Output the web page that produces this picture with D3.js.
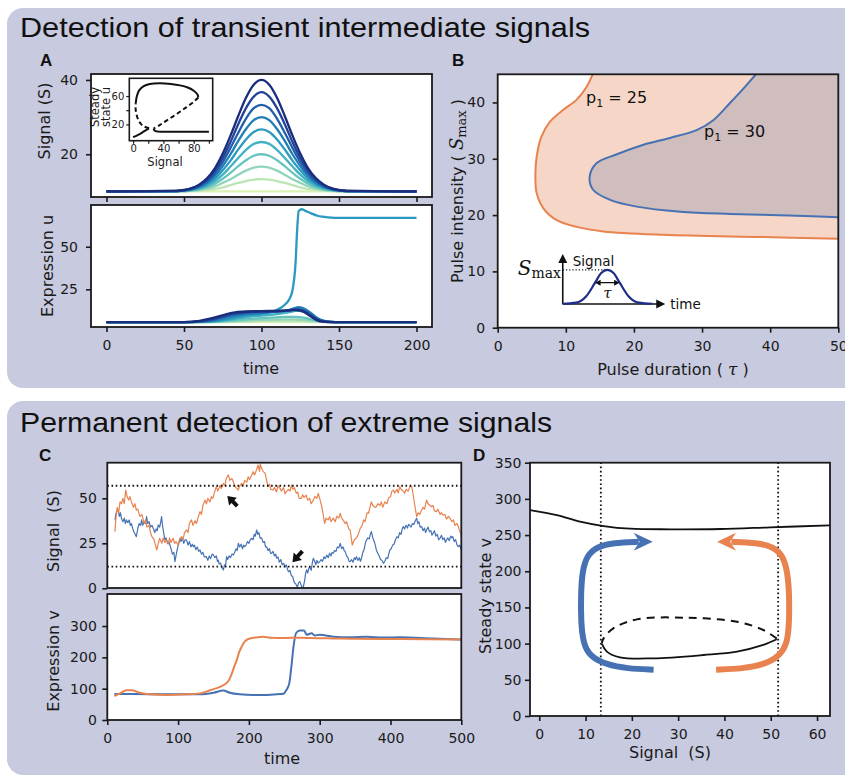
<!DOCTYPE html>
<html><head><meta charset="utf-8">
<script src="https://cdn.jsdelivr.net/npm/d3@7"></script>
<style>body{margin:0;background:#fff}svg{display:block}</style>
</head><body>
<svg id="chart" width="845" height="777"></svg>
<script>
// ---------------- DATA ----------------
// Panel A (top): Gaussian-like signal pulses, one array per pulse amplitude
const pulseTimes = [0,45,50,55,60,65,70,75,80,85,90,95,100,105,110,115,120,125,130,135,140,145,150,155,200];
const pulse0 = [10,10,10,10,10,10,10,10,10,10,10,10,10,10,10,10,10,10,10,10,10,10,10,10,10];
const pulse1 = [10,10.0,10.0,10.1,10.2,10.4,10.7,11.1,11.7,12.3,12.8,13.2,13.3,13.2,12.8,12.3,11.7,11.1,10.7,10.4,10.2,10.1,10.0,10.0,10];
const pulse2 = [10,10.0,10.1,10.2,10.4,10.8,11.4,12.3,13.3,14.5,15.6,16.4,16.7,16.4,15.6,14.5,13.3,12.3,11.4,10.8,10.4,10.2,10.1,10.0,10];
const pulse3 = [10,10.1,10.1,10.3,10.6,11.2,12.1,13.4,15.0,16.8,18.4,19.6,20.0,19.6,18.4,16.8,15.0,13.4,12.1,11.2,10.6,10.3,10.1,10.1,10];
const pulse4 = [10,10.1,10.2,10.4,10.8,11.6,12.8,14.5,16.7,19.0,21.2,22.8,23.3,22.8,21.2,19.0,16.7,14.5,12.8,11.6,10.8,10.4,10.2,10.1,10];
const pulse5 = [10,10.1,10.2,10.5,11.1,12.0,13.5,15.7,18.3,21.3,24.0,26.0,26.7,26.0,24.0,21.3,18.3,15.7,13.5,12.0,11.1,10.5,10.2,10.1,10];
const pulse6 = [10,10.1,10.3,10.6,11.3,12.4,14.2,16.8,20.0,23.6,26.8,29.2,30.0,29.2,26.8,23.6,20.0,16.8,14.2,12.4,11.3,10.6,10.3,10.1,10];
const pulse7 = [10,10.1,10.3,10.7,11.5,12.8,14.9,17.9,21.7,25.8,29.6,32.4,33.3,32.4,29.6,25.8,21.7,17.9,14.9,12.8,11.5,10.7,10.3,10.1,10];
const pulse8 = [10,10.1,10.3,10.8,11.7,13.2,15.6,19.0,23.3,28.1,32.4,35.5,36.7,35.5,32.4,28.1,23.3,19.0,15.6,13.2,11.7,10.8,10.3,10.1,10];
const pulse9 = [10,10.2,10.4,10.9,11.9,13.6,16.3,20.2,25.0,30.3,35.2,38.7,40.0,38.7,35.2,30.3,25.0,20.2,16.3,13.6,11.9,10.9,10.4,10.2,10];
const pulses = [pulse0,pulse1,pulse2,pulse3,pulse4,pulse5,pulse6,pulse7,pulse8,pulse9];

// Panel A (bottom): expression u responses
const exprTimes = [0,50,60,70,80,90,100,110,114,118,120,122,123,124,126,128,132,136,140,145,150,200];
const expr0 = [5.8,5.8,5.8,5.8,5.8,5.8,5.8,5.8,5.8,5.8,5.8,5.8,5.8,5.8,5.8,5.8,5.8,5.8,5.8,5.8,5.8,5.8];
const expr1 = [5.8,5.8,5.8,5.8,5.9,6.1,6.3,6.4,6.4,6.4,6.4,6.4,6.4,6.3,6.3,6.2,6.1,6.0,5.9,5.8,5.8,5.8];
const expr2 = [5.8,5.8,5.8,5.9,6.2,6.7,7.1,7.3,7.4,7.4,7.4,7.4,7.3,7.3,7.2,7.0,6.6,6.2,6.0,5.8,5.8,5.8];
const expr3 = [5.8,5.8,5.8,6.0,6.6,7.4,8.1,8.6,8.8,8.9,8.9,8.9,8.8,8.7,8.5,8.2,7.4,6.6,6.1,5.9,5.8,5.8];
const expr4 = [5.8,5.8,5.9,6.2,7.2,8.6,9.6,10.5,11.0,11.6,12.0,12.3,12.4,12.4,12.2,11.6,9.6,7.6,6.4,5.9,5.8,5.8];
const expr5 = [5.8,5.8,5.9,6.3,7.8,9.6,10.6,13.0,15.2,19.3,24.5,41,60,71,72,71.2,69.6,68.2,67.6,67.1,67.0,67.0];
const expr6 = [5.8,5.8,6.0,6.8,8.8,10.4,11.2,11.8,12.3,13.0,13.6,14.2,14.4,14.5,14.3,13.5,11.0,8.2,6.6,5.9,5.8,5.8];
const expr7 = [5.8,5.8,6.1,7.4,9.8,11.2,11.7,12.0,12.3,12.8,13.2,13.5,13.5,13.4,13.0,12.3,10.0,7.6,6.3,5.9,5.8,5.8];
const expr8 = [5.8,5.8,6.3,8.0,10.5,11.6,12.0,12.2,12.4,12.7,12.9,13.0,13.0,12.9,12.6,11.8,9.5,7.2,6.1,5.8,5.8,5.8];
const expr9 = [5.8,5.8,6.5,8.5,11.0,12.0,12.2,12.4,12.5,12.7,12.8,12.8,12.7,12.6,12.2,11.4,9.0,6.8,6.0,5.8,5.8,5.8];
const exprs = [expr0,expr1,expr2,expr3,expr4,expr5,expr6,expr7,expr8,expr9];

// Panel A inset: steady state u vs signal (branches)
const insetSolidLow = [[0,2],[6,5],[12,8.5],[17,12],[21,14.5]];
const insetDashLeft = [[21,14.5],[13,18],[8,24],[4.5,34],[3.2,44],[3.5,50]];
const insetSolidTop = [[3.5,50],[5,60],[8,68],[14,74],[22,77],[35,78],[50,77],[62,75],[72,72],[80,67.5],[85,62],[86,58]];
const insetDashRight = [[86,58],[80,52],[70,44],[58,35],[45,26],[35,19],[27,14]];
const insetSolidBottom = [[27,14],[28.5,11],[33,9.8],[50,9.5],[75,9.5],[100,9.5]];

// Panel B: detection-region boundaries (tau, S_max)
const contourP25 = [[13.94,45],[13.06,42.8],[11.6,40.5],[9.63,38.7],[7.68,36.6],[6.45,34.0],[5.72,30.4],[5.53,26.8],[5.72,23.9],[6.7,21.2],[8.66,19.1],[11.6,17.9],[15.5,17.1],[24.3,16.5],[39.0,16.1],[50,15.8]];
const contourP30 = [[37.9,45],[36.1,42.5],[34.1,39.9],[31.7,36.9],[29.2,35.1],[25.3,33.7],[21.4,32.5],[17.5,30.8],[14.5,29.2],[13.5,26.8],[14.0,24.5],[16.5,22.7],[20.4,21.5],[26.8,20.6],[34.1,20.2],[43.9,19.9],[50,19.6]];
const schematicPulse = [[9.5,4.25],[11.5,4.45],[13,5.6],[14.3,8.0],[15.2,9.7],[16.1,10.26],[17,9.7],[17.9,8.0],[19.2,5.6],[20.7,4.45],[22.7,4.25]];

// Panel C (top): noisy signals (time, S)
const signalOrange = [[10.8,31.5],[12,38],[14,45],[16,42],[18,48],[20,47],[22,50],[24,47],[26,54.6],[28,51],[30,49],[32,51],[34,48],[37,45],[39,47],[41,43.5],[43,44],[46,40],[49,41],[52,36],[54,38],[56,34],[59,35],[61,31],[63,28.7],[66,27],[68,24],[70,21.3],[72,25],[74,27.8],[77,25],[79,28],[81,25.5],[84,26.8],[86,24.5],[88,28],[90,25.5],[93,27.8],[95,25],[97,26],[100,24],[102,27],[105,28.7],[107,27],[109,31],[112,32.4],[114,31],[116,36],[119,38],[121,35],[124,37.5],[126,36],[128,39],[131,42.6],[133,41],[135,46],[138,49],[140,47],[142,50],[145,48],[147,51],[149,50],[152,54],[154,56.5],[156,54],[159,57],[161,55.5],[164,58.3],[166,57],[168,61],[171,63],[173,60],[176,61],[178,59.2],[180,57],[182,56],[185,54.6],[187,57],[190,58.3],[192,57],[194,60],[197,59],[199,62],[201,60.5],[204,63],[206,64.8],[208,63],[211,66],[213,68.5],[215,65],[216,69],[218,66.7],[220,65],[223,63.9],[225,60],[227,56.5],[229,58],[231,55],[234,54.6],[236,56],[239,53.5],[241,57],[244,55.5],[246,54],[249,56],[251,52.5],[253,53.7],[256,55],[258,54],[260,57.4],[262,55],[264,56],[267,52.8],[269,53.5],[271,50],[274,50],[276,52],[278,50.5],[281,51.8],[283,49],[286,50],[288,47],[291,49],[293,51],[296,50],[298,52.8],[300,50],[303,45.3],[305,41],[307,36],[309,39],[312,38],[314,39.8],[316,37],[319,39],[322,37],[324,40],[327,39],[329,41.7],[331,39],[333,38],[336,36],[338,37],[341,33],[343,32.4],[345,27],[346,24],[347,25],[349,27],[352,28],[355,30.5],[357,33],[360,35],[362,38],[364,37],[367,42],[369,41.7],[371,45],[373,48],[375,46],[378,45],[380,45.3],[382,47],[385,46],[387,48],[389,45],[392,48],[395,47],[397,50],[400,51],[402,54],[404,54.6],[406,53],[409,55],[411,53],[413,56.5],[415,55],[418,54],[420,52.8],[422,55],[425,54],[428,57],[430,56.5],[432,52],[434,47],[436,42],[437,39.8],[439,42],[441,41],[444,43.5],[446,45],[448,44],[451,49],[453,47],[456,46],[458,45.3],[460,46],[462,43],[465,42.6],[467,44],[470,41],[472,42],[474,40.7],[477,41],[479,38.5],[482,40],[484,38.9],[487,37],[489,38],[491,35],[494,36],[496,34],[498,31.5],[500,29.6]];
const signalBlue = [[10.8,38],[12,41],[14,43.5],[15.5,43],[17,40],[18.5,42],[20,38.9],[22,37],[24,39],[25.5,36],[27,38],[29,36.5],[31,38],[32.5,35],[34,36],[36,33],[38,31],[39.5,30],[41,28.7],[43,33],[45,36],[47,35],[48.5,38],[50,35],[52,37],[54,36],[55.5,39.8],[57,36],[59,37],[61,34],[63,35],[65,33.3],[67,31],[69,33],[70.5,32],[72,35.2],[74,34],[75.5,37],[76.7,39.8],[78,35],[80,30],[81.5,26.8],[83,28],[85,25],[87,26],[88.5,24],[90,22],[92,19],[94,20],[95.6,14.8],[97,18],[99,22],[101,25],[102.6,27.8],[104,26],[106,28],[108,25],[110,27],[112,26.8],[114,24],[116,26],[118,23],[120,24.5],[121.5,23.1],[123,24],[125,21.5],[127,23],[129,20.5],[131,21.3],[133,19],[135,20],[137,17.5],[140,17.6],[142,15.5],[144,18],[146,16.5],[148,19],[150,18.5],[152,17],[154,18],[155.5,15],[156.8,15.7],[158,13.5],[160,14],[162,11.5],[164,10.2],[165.5,13],[167,12.5],[168.5,17.6],[170,16],[172,18],[174,17],[176,19],[178,18.5],[180,20],[182,22],[183.5,21],[185,25],[187,23],[189,24.5],[191,22],[192.5,24],[194,23.1],[196,24],[198,26],[200,25],[202,27],[204,27.8],[206,27],[207.5,30],[209,29],[211,32.4],[212.5,30],[214,31],[216,27.8],[218,28],[220,25.5],[222,26],[223.5,23],[225,23.1],[227,21],[229,22],[230.5,19.5],[232,19.4],[234,20.5],[236,18],[238,19],[239,16.7],[241,17.5],[243,14.5],[245,16],[247,13],[249,13.9],[251,12],[253,13],[254.5,10.5],[256,9.2],[258,10],[260,7],[262,6.5],[263,4.6],[264.5,3],[266,2.5],[267,1.8],[268.5,0.5],[270,3],[272,3.7],[274,1.5],[275.5,0.3],[277,0.9],[279,5],[280,8],[281.5,10.2],[283,8.5],[284.5,11],[286,12],[288,10],[289.5,14],[291,16.7],[293,15],[294.5,13],[296,15.5],[298,14],[300,14.8],[302,16],[304,15],[306,17.5],[308,16.5],[310,18.5],[312,17],[314,19.5],[316,18],[317.5,20],[319,19.4],[321,21],[323,20.5],[325,23],[327,22.5],[329,25],[331,22],[333,23],[334.5,21],[336,20.4],[338,18],[340,17],[341.5,15],[343,14.8],[345,16],[347,14.5],[349,17],[350.5,16],[352,17.6],[354,15.5],[356,17],[357.5,15],[359,16.7],[361,20],[363,22],[364.5,25],[366,26.8],[368,28],[370,27.5],[371.5,30],[373,31.5],[375,28],[377,26],[378.5,24],[380,21.3],[382,19.5],[384,18],[386,16],[388,15.5],[390,13.9],[392,15],[394,17],[396,16.5],[397.5,19],[399,21.3],[401,22],[403,24],[405,24.5],[407,27],[409,28.7],[411,28],[413,31],[415,30],[416.5,33],[418,34.3],[420,33],[422,35],[424,33.5],[425.5,35.5],[427,35.2],[429,34],[431,36],[433,35.5],[435,37.5],[437,38.9],[438.5,36],[440,37],[442,34],[444,34.3],[446,32],[448,33.5],[449.5,31],[451,32.4],[453,34],[455,31.5],[457,32],[458.5,29.5],[460,30.5],[462,32],[464,29],[466,30],[468,27],[470,27.8],[472,29.5],[474,27],[476,28],[477.5,25.5],[479,26.8],[481,28],[483,26.5],[485,29],[486.5,28],[488,28.7],[490,26],[492,27],[494,24],[496,23.1],[498,24],[500,21.3]];
const thresholdsC = [57, 12];
const arrowsC = [{tail:[183.6,45.7], tip:[169.5,51.3]}, {tail:[275.6,20.7], tip:[261.5,14.5]}];

// Panel C (bottom): expression v
const exprOrange = [[10,76],[18,85],[27,95],[34,95],[46,87],[60,82],[84,80],[112,82],[131,85],[145,95],[159,106],[168,117],[172,128],[176,149],[180,175],[183,192],[186,215],[190,235],[194,250],[197,256],[201,260],[206,262.6],[213,264],[220,265.8],[230,262.6],[250,262],[272,262.6],[300,261],[319,260.5],[350,259],[400,258.5],[450,258],[500,257]];
const exprBlue = [[10,83],[37,83],[84,82],[131,82],[150,87],[164,94],[173,87],[187,82],[206,80],[225,80],[244,83],[249,84],[253,96],[257,117],[260,170],[263,234],[266.5,277],[272,285.5],[278,285.5],[281.5,272],[288.6,277],[293,270],[300,272],[319,266],[343,264],[366,266],[390,263],[413,264],[460,260],[500,257]];

// Panel D: steady state v vs signal
const dUpper = [[-2,284.6],[3.8,277.7],[8.8,268.5],[13.9,262.5],[19.6,258.8],[28.3,258],[39.1,258.4],[49.9,260.7],[62.8,263.5]];
const dLowerSolid = [[13.5,100],[14.6,89],[17.4,81.1],[24.6,79.7],[35.5,84.3],[42.7,89],[48.4,98.2],[51.3,106]];
const dLowerDashed = [[51.3,107],[48.4,118.8],[42.7,130.3],[31.9,135.8],[21.1,133.5],[16,121.1],[13.9,107.3],[13.5,101]];
const thresholdsD = [13.3, 51.6];
const arrowBlueD = [[24.7,64],[19,65.5],[14.5,71],[11,82],[9.5,100],[9,130],[9,170],[9.3,200],[10.3,222],[12.5,234],[16,239.5],[21.5,240.8]];
const arrowBlueTip = [24.5,240.8];
const arrowOrangeD = [[38.2,64],[44,65.5],[48.5,71],[51.8,82],[53.6,100],[54,130],[54,170],[53.6,200],[52.6,222],[50.5,234],[47,239.5],[41.5,240.8]];
const arrowOrangeTip = [38.4,240.8];

// tick values
const ticksAx = [0,50,100,150,200], ticksAy1 = [20,40], ticksAy2 = [25,50];
const ticksInsetX = [0,20,40,60,80,100], insetXLabels = [0,40,80], ticksInsetY = [20,40,60], insetYLabels = [20,60];
const ticksBx = [0,10,20,30,40,50], ticksBy = [0,10,20,30,40];
const ticksCx = [0,100,200,300,400,500], ticksCy1 = [0,25,50], ticksCy2 = [0,100,200,300];
const ticksDx = [0,10,20,30,40,50,60], ticksDy = [0,50,100,150,200,250,300,350];

// ---------------- DRAWING ----------------
const svg = d3.select('#chart');
const defs = svg.append('defs');
const SANS = "'DejaVu Sans', 'Noto Sans', sans-serif";
const SERIF = "'DejaVu Serif', serif";
const HEAD = "'Liberation Sans', Arial, sans-serif";
const BG = '#c8cadf', BLUE = '#4672b4', ORANGE = '#e8824e', INK = '#1a1a1a';

// panel backgrounds
svg.append('rect').attr('x',7).attr('y',8).attr('width',870).attr('height',380).attr('rx',16).attr('fill',BG);
svg.append('rect').attr('x',7).attr('y',401).attr('width',870).attr('height',374).attr('rx',16).attr('fill',BG);

svg.append('text').attr('x',20).attr('y',37).attr('font-family',HEAD).attr('font-size',28).attr('fill','#111')
  .attr('textLength',570).attr('lengthAdjust','spacingAndGlyphs').text('Detection of transient intermediate signals');
svg.append('text').attr('x',20).attr('y',432).attr('font-family',HEAD).attr('font-size',28).attr('fill','#111')
  .attr('textLength',532).attr('lengthAdjust','spacingAndGlyphs').text('Permanent detection of extreme signals');

function letter(x,y,t){ svg.append('text').attr('x',x).attr('y',y).attr('font-family',HEAD).attr('font-weight','bold').attr('font-size',17).attr('fill','#111').text(t); }
letter(40,66,'A'); letter(452,66,'B'); letter(39,461,'C'); letter(473,461,'D');

let clipN = 0;
function plotArea(x0,y0,x1,y1){
  svg.append('rect').attr('x',x0).attr('y',y0).attr('width',x1-x0).attr('height',y1-y0).attr('fill','#fff');
  const id = 'clip'+(clipN++);
  defs.append('clipPath').attr('id',id).append('rect').attr('x',x0).attr('y',y0).attr('width',x1-x0).attr('height',y1-y0);
  return svg.append('g').attr('clip-path',`url(#${id})`);
}
function frame(x0,y0,x1,y1,w){
  svg.append('rect').attr('x',x0).attr('y',y0).attr('width',x1-x0).attr('height',y1-y0)
    .attr('fill','none').attr('stroke',INK).attr('stroke-width',w||1.8);
}
function styleAxis(g,fs,lw){
  g.select('.domain').remove();
  g.selectAll('.tick line').attr('stroke',INK).attr('stroke-width',lw||1.6);
  g.selectAll('.tick text').attr('fill',INK).attr('font-family',SANS).attr('font-size',fs||14);
}
function axisB(scale,y,ticks,o){
  o=o||{};
  const ax = d3.axisBottom(scale).tickValues(ticks).tickSize(o.size||5).tickPadding(o.pad==null?8.5:o.pad);
  ax.tickFormat(o.labels===false ? ()=>'' : (o.fmt || (d=>d)));
  const g = svg.append('g').attr('transform',`translate(0,${y})`).call(ax);
  styleAxis(g,o.fs,o.lw); return g;
}
function axisL(scale,x,ticks,o){
  o=o||{};
  const ax = d3.axisLeft(scale).tickValues(ticks).tickSize(o.size||5).tickPadding(o.pad==null?6:o.pad);
  ax.tickFormat(o.fmt || (d=>d));
  const g = svg.append('g').attr('transform',`translate(${x},0)`).call(ax);
  styleAxis(g,o.fs,o.lw); return g;
}
function label(x,y,txt,o){
  o=o||{};
  const t = svg.append('text').attr('x',x).attr('y',y).attr('text-anchor','middle').attr('dy','0.35em')
    .attr('font-family',SANS).attr('font-size',o.size||16).attr('fill',INK).style('white-space','pre').text(txt);
  if(o.rot) t.attr('transform',`rotate(-90,${x},${y})`);
  return t;
}
function arrowPoly(g,x1,y1,x2,y2,headL,headW,shaftW,color){
  const dx=x2-x1, dy=y2-y1, len=Math.hypot(dx,dy), ux=dx/len, uy=dy/len, px=-uy, py=ux;
  const bx=x2-ux*headL, by=y2-uy*headL;
  const pts=[[x1+px*shaftW,y1+py*shaftW],[bx+px*shaftW,by+py*shaftW],[bx+px*headW,by+py*headW],[x2,y2],
             [bx-px*headW,by-py*headW],[bx-px*shaftW,by-py*shaftW],[x1-px*shaftW,y1-py*shaftW]];
  g.append('polygon').attr('points',pts.map(p=>p.join(',')).join(' ')).attr('fill',color);
}
function headOnly(g,tx,ty,ux,uy,L,W,notch,color){
  const px=-uy, py=ux, bx=tx-ux*L, by=ty-uy*L, nx=tx-ux*(L-notch), ny=ty-uy*(L-notch);
  g.append('polygon').attr('points',[[tx,ty],[bx+px*W,by+py*W],[nx,ny],[bx-px*W,by-py*W]].map(p=>p.join(',')).join(' ')).attr('fill',color);
}

// ===== Panel A top =====
const xA = d3.scaleLinear([-10,210],[91,432]);
const yA1 = d3.scaleLinear([8.5,41.6],[197,74]);
const yA2 = d3.scaleLinear([2.9,74.5],[327,205]);
const colA = i => d3.interpolateYlGnBu(0.18 + i*0.082);
{
  const g = plotArea(91,74,432,197);
  const line = d3.line().x((d,i)=>xA(pulseTimes[i])).y(d=>yA1(d)).curve(d3.curveMonotoneX);
  pulses.forEach((p,i)=> g.append('path').attr('d',line(p)).attr('fill','none').attr('stroke',colA(i)).attr('stroke-width',2.3));
  frame(91,74,432,197);
  axisB(xA,197,ticksAx,{labels:false});
  axisL(yA1,91,ticksAy1,{pad:8});
  label(44,121,'Signal (S)',{rot:true});
}
// inset
{
  const xI = d3.scaleLinear([-5,105],[129.3,212.7]);
  const yI = d3.scaleLinear([-3,85],[140.7,78.3]);
  const g = plotArea(129.3,78.3,212.7,140.7);
  const ln = d3.line().x(d=>xI(d[0])).y(d=>yI(d[1])).curve(d3.curveCatmullRom);
  [insetSolidLow,insetSolidTop,insetSolidBottom].forEach(b=>g.append('path').attr('d',ln(b)).attr('fill','none').attr('stroke','#111').attr('stroke-width',2));
  [insetDashLeft,insetDashRight].forEach(b=>g.append('path').attr('d',ln(b)).attr('fill','none').attr('stroke','#111').attr('stroke-width',2).attr('stroke-dasharray','4.5,3'));
  frame(129.3,78.3,212.7,140.7,1.6);
  axisB(xI,140.7,ticksInsetX,{size:3,pad:1.5,fs:10,lw:1.2,fmt:d=>insetXLabels.includes(d)?d:''});
  axisL(yI,129.3,ticksInsetY,{size:3,pad:2,fs:10,lw:1.2,fmt:d=>insetYLabels.includes(d)?d:''});
  label(165,162,'Signal',{size:11.5});
  label(95,107,'Steady',{size:11.5,rot:true});
  label(106,107,'state u',{size:11.5,rot:true});
}
// ===== Panel A bottom =====
{
  const g = plotArea(91,205,432,327);
  const line = d3.line().x((d,i)=>xA(exprTimes[i])).y(d=>yA2(d)).curve(d3.curveMonotoneX);
  exprs.forEach((p,i)=> g.append('path').attr('d',line(p)).attr('fill','none').attr('stroke',colA(i)).attr('stroke-width',2.3));
  frame(91,205,432,327);
  axisB(xA,327,ticksAx);
  axisL(yA2,91,ticksAy2,{pad:8});
  label(47,266,'Expression u',{rot:true});
  label(261,368,'time');
}

// ===== Panel B =====
const xB = d3.scaleLinear([0,50],[497.7,838.3]);
const yB = d3.scaleLinear([0,45],[327.7,74.3]);
{
  const g = plotArea(497.7,74.3,838.3,327.7);
  const ln = d3.line().x(d=>xB(d[0])).y(d=>yB(d[1])).curve(d3.curveCatmullRom);
  g.append('path').attr('d',ln(contourP25)+`L${xB(50)},${yB(45)}Z`).attr('fill','#f6d6c7');
  g.append('path').attr('d',ln(contourP30)+`L${xB(50)},${yB(45)}Z`).attr('fill','#d0bdbd');
  g.append('path').attr('d',ln(contourP25)).attr('fill','none').attr('stroke',ORANGE).attr('stroke-width',2);
  g.append('path').attr('d',ln(contourP30)).attr('fill','none').attr('stroke',BLUE).attr('stroke-width',2);

  // schematic pulse
  const x0 = xB(9.55), yb = yB(4.2);
  g.append('line').attr('x1',x0).attr('y1',yb).attr('x2',x0).attr('y2',yB(12.2)).attr('stroke','#111').attr('stroke-width',1.6);
  headOnly(g,x0,yB(13.1),0,-1,9,4.5,0,'#111');
  g.append('line').attr('x1',x0).attr('y1',yb).attr('x2',xB(23.6)).attr('y2',yb).attr('stroke','#111').attr('stroke-width',1.6);
  headOnly(g,xB(24.6),yb,1,0,9,4.5,0,'#111');
  g.append('line').attr('x1',x0).attr('y1',yB(10.26)).attr('x2',xB(16.1)).attr('y2',yB(10.26)).attr('stroke','#111').attr('stroke-width',1.2).attr('stroke-dasharray','1.2,2');
  const pl = d3.line().x(d=>xB(d[0])).y(d=>yB(d[1])).curve(d3.curveMonotoneX);
  g.append('path').attr('d',pl(schematicPulse)).attr('fill','none').attr('stroke','#1f2d8a').attr('stroke-width',2.2);
  const ya = yB(8.0);
  g.append('line').attr('x1',xB(14.3)+4).attr('y1',ya).attr('x2',xB(17.9)-4).attr('y2',ya).attr('stroke','#111').attr('stroke-width',1.2);
  headOnly(g,xB(14.3),ya,-1,0,5.5,3,0,'#111');
  headOnly(g,xB(17.9),ya,1,0,5.5,3,0,'#111');
  g.append('text').attr('x',xB(16.1)).attr('y',yB(8.0)+15).attr('text-anchor','middle').attr('font-family',SERIF).attr('font-style','italic').attr('font-size',15).attr('fill','#111').text('τ');
  g.append('text').attr('x',x0+10).attr('y',yB(11.0)).attr('font-family',SANS).attr('font-size',13.5).attr('fill','#111').text('Signal');
  g.append('text').attr('x',xB(24.6)+5).attr('y',yb+4.5).attr('font-family',SANS).attr('font-size',13.5).attr('fill','#111').text('time');
  const sm = g.append('text').attr('x',x0-45).attr('y',yB(10.26)+5).attr('font-family',SERIF).attr('fill','#111');
  sm.append('tspan').attr('font-style','italic').attr('font-size',20).text('S');
  sm.append('tspan').attr('font-size',14).attr('dy',3).text('max');

  // region labels
  const t1 = g.append('text').attr('x',586).attr('y',yB(39.9)).attr('font-family',SANS).attr('font-size',16).attr('fill','#111');
  t1.append('tspan').text('p'); t1.append('tspan').attr('font-size',11).attr('dy',4).text('1'); t1.append('tspan').attr('dy',-4).text(' = 25');
  const t2 = g.append('text').attr('x',704).attr('y',yB(33.85)).attr('font-family',SANS).attr('font-size',16).attr('fill','#111');
  t2.append('tspan').text('p'); t2.append('tspan').attr('font-size',11).attr('dy',4).text('1'); t2.append('tspan').attr('dy',-4).text(' = 30');

  frame(497.7,74.3,838.3,327.7);
  axisB(xB,327.7,ticksBx);
  axisL(yB,497.7,ticksBy,{pad:7.5});
  const xl = svg.append('text').attr('x',673).attr('y',369).attr('dy','0.35em').attr('text-anchor','middle').attr('font-family',SANS).attr('font-size',16).attr('fill',INK).style('white-space','pre');
  xl.append('tspan').text('Pulse duration ( ');
  xl.append('tspan').attr('font-family',SERIF).attr('font-style','italic').attr('font-size',17).text('τ');
  xl.append('tspan').text(' )');
  const yl = svg.append('text').attr('x',457).attr('y',191).attr('dy','0.35em').attr('text-anchor','middle').attr('font-family',SANS).attr('font-size',16).attr('fill',INK).style('white-space','pre').attr('transform','rotate(-90,457,191)');
  yl.append('tspan').text('Pulse intensity ( ');
  yl.append('tspan').attr('font-family',SERIF).attr('font-style','italic').attr('font-size',18).text('S');
  yl.append('tspan').attr('font-family',SERIF).attr('font-size',13).attr('dy',3).text('max');
  yl.append('tspan').attr('dy',-3).text(' )');
}

// ===== Panel C top =====
const xC = d3.scaleLinear([0,500],[107.3,461.3]);
const yC1 = d3.scaleLinear([0,69.8],[588.3,462.7]);
const yC2 = d3.scaleLinear([0,400],[720,594.7]);
{
  const g = plotArea(107.3,462.7,461.3,588);
  const ln = d3.line().x(d=>xC(d[0])).y(d=>yC1(d[1]));
  g.append('path').attr('d',ln(signalBlue)).attr('fill','none').attr('stroke',BLUE).attr('stroke-width',1.2).attr('stroke-linejoin','round');
  g.append('path').attr('d',ln(signalOrange)).attr('fill','none').attr('stroke',ORANGE).attr('stroke-width',1.2).attr('stroke-linejoin','round');
  thresholdsC.forEach(v=> g.append('line').attr('x1',xC(0)).attr('x2',xC(500)).attr('y1',yC1(v)).attr('y2',yC1(v)).attr('stroke','#111').attr('stroke-width',1.8).attr('stroke-dasharray','1.6,2.6'));
  arrowsC.forEach(a=> arrowPoly(g,xC(a.tail[0]),yC1(a.tail[1]),xC(a.tip[0]),yC1(a.tip[1]),8,5.5,2,'#111'));
  frame(107.3,462.7,461.3,588);
  axisL(yC1,107.3,ticksCy1,{pad:5.5});
  label(53,531,'Signal  (S)',{rot:true});
}
// ===== Panel C bottom =====
{
  const g = plotArea(107.3,594,461.3,720);
  const ln = d3.line().x(d=>xC(d[0])).y(d=>yC2(d[1])).curve(d3.curveMonotoneX);
  g.append('path').attr('d',ln(exprBlue)).attr('fill','none').attr('stroke',BLUE).attr('stroke-width',2);
  g.append('path').attr('d',ln(exprOrange)).attr('fill','none').attr('stroke',ORANGE).attr('stroke-width',2);
  frame(107.3,594,461.3,720);
  axisB(xC,720,ticksCx);
  axisL(yC2,107.3,ticksCy2,{pad:5.5});
  label(53,661,'Expression v',{rot:true});
  label(282,758,'time');
}

// ===== Panel D =====
const xD = d3.scaleLinear([-2,62.8],[530,830]);
const yD = d3.scaleLinear([0,350],[716,462.7]);
{
  const g = plotArea(530,462.7,830,716);
  const ln = d3.line().x(d=>xD(d[0])).y(d=>yD(d[1])).curve(d3.curveCatmullRom);
  thresholdsD.forEach(s=> g.append('line').attr('x1',xD(s)).attr('x2',xD(s)).attr('y1',yD(0)).attr('y2',yD(350)).attr('stroke','#111').attr('stroke-width',1.8).attr('stroke-dasharray','1.6,2.6'));
  g.append('path').attr('d',ln(dUpper)).attr('fill','none').attr('stroke','#111').attr('stroke-width',1.8);
  g.append('path').attr('d',ln(dLowerSolid)).attr('fill','none').attr('stroke','#111').attr('stroke-width',1.8);
  g.append('path').attr('d',ln(dLowerDashed)).attr('fill','none').attr('stroke','#111').attr('stroke-width',2).attr('stroke-dasharray','8,6');
  const bl = d3.line().x(d=>xD(d[0])).y(d=>yD(d[1])).curve(d3.curveBasis);
  g.append('path').attr('d',bl(arrowBlueD)).attr('fill','none').attr('stroke',BLUE).attr('stroke-width',6);
  headOnly(g,xD(arrowBlueTip[0]),yD(arrowBlueTip[1]),1,0,19,9,6,BLUE);
  g.append('path').attr('d',bl(arrowOrangeD)).attr('fill','none').attr('stroke',ORANGE).attr('stroke-width',6);
  headOnly(g,xD(arrowOrangeTip[0]),yD(arrowOrangeTip[1]),-1,0,19,9,6,ORANGE);
  frame(530,462.7,830,716);
  axisB(xD,716,ticksDx);
  axisL(yD,530,ticksDy,{pad:3.5});
  label(485,596,'Steady state v',{rot:true});
  label(670,752,'Signal  (S)');
}
</script>
</body></html>
